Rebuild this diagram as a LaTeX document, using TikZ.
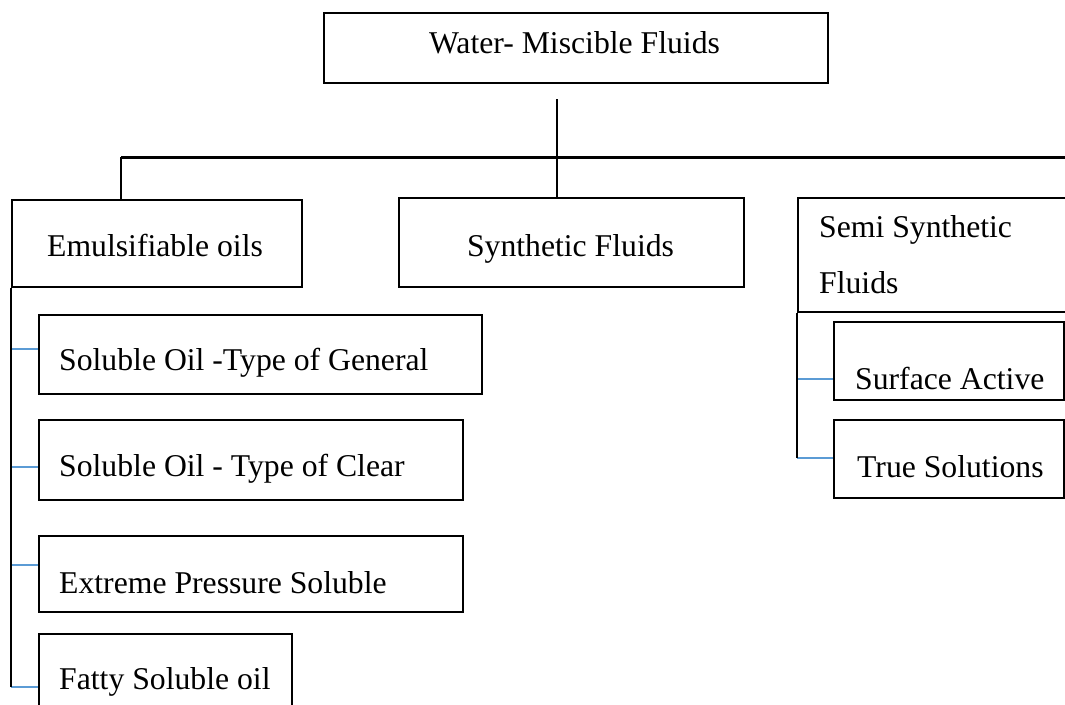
\documentclass[tikz,border=0pt]{standalone}
\usepackage{fontspec}
\setmainfont{Liberation Serif}
\definecolor{tickblue}{HTML}{5B9BD5}
\begin{document}
\begin{tikzpicture}[x=1pt,y=-1pt,
  box/.style={draw=black, line width=1.8pt, rectangle, inner sep=0pt, anchor=north west},
  txt/.style={inner sep=0pt, anchor=base west, font=\fontsize{31.7}{38}\selectfont},
  ctxt/.style={txt, anchor=base},
  link/.style={draw=black, line width=1.8pt},
  bus/.style={draw=black, line width=3pt},
  tick/.style={draw=tickblue, line width=1.2pt}]
\clip (0,0) rectangle (1065,704);
% boxes
\node[box, minimum width=504pt, minimum height=70pt] (top) at (323,12) {};
\node[box, minimum width=290pt, minimum height=87pt] (emul) at (11,199) {};
\node[box, minimum width=345pt, minimum height=89pt] (syn) at (398,197) {};
\node[box, minimum width=300pt, minimum height=114pt] (semi) at (797,197) {};
\node[box, minimum width=443pt, minimum height=79pt] (b1) at (38,314) {};
\node[box, minimum width=424pt, minimum height=80pt] (b2) at (38,419) {};
\node[box, minimum width=424pt, minimum height=76pt] (b3) at (38,535) {};
\node[box, minimum width=253pt, minimum height=100pt] (b4) at (38,633) {};
\node[box, minimum width=230pt, minimum height=78pt] (sa) at (833,321) {};
\node[box, minimum width=230pt, minimum height=78pt] (ts) at (833,419) {};
% texts
\node[ctxt] (ttop) at (574.5,53) {Water- Miscible Fluids};
\node[txt] (temul) at (47,256) {Emulsifiable oils};
\node[ctxt] (tsyn) at (570.5,256) {Synthetic Fluids};
\node[txt] (tsemiA) at (819,237) {Semi Synthetic};
\node[txt] (tsemiB) at (819,293) {Fluids};
\node[txt] (t1) at (59,370) {Soluble Oil -Type of General};
\node[txt] (t2) at (59,476) {Soluble Oil - Type of Clear};
\node[txt] (t3) at (59,593) {Extreme Pressure Soluble};
\node[txt] (t4) at (59,689) {Fatty Soluble oil};
\node[txt] (tsa) at (855,389) {Surface Active};
\node[txt] (tts) at (857,477) {True Solutions};
% connectors
\coordinate (stem) at (557,99);
\coordinate (busL) at (121,157);
\coordinate (busR) at (1080,157);
\draw[bus] (busR) -- (busL);
\draw[link] (stem) -- (stem |- syn.north);
\draw[link] (busL) -- (busL |- emul.north);
% left branch
\coordinate (l1) at (12,349);
\coordinate (l2) at (12,467);
\coordinate (l3) at (12,565);
\coordinate (lend) at (11,687);
\draw[tick] (l1) -- (l1 -| b1.west);
\draw[tick] (l2) -- (l2 -| b2.west);
\draw[tick] (l3) -- (l3 -| b3.west);
\draw[tick] (lend) -- (lend -| b4.west);
\draw[link] (emul.south west) -- (lend);
% right branch
\coordinate (r1) at (798,379);
\coordinate (rend) at (797,458);
\draw[tick] (r1) -- (r1 -| sa.west);
\draw[tick] (rend) -- (rend -| ts.west);
\draw[link] (semi.south west) -- (rend);
\end{tikzpicture}
\end{document}
